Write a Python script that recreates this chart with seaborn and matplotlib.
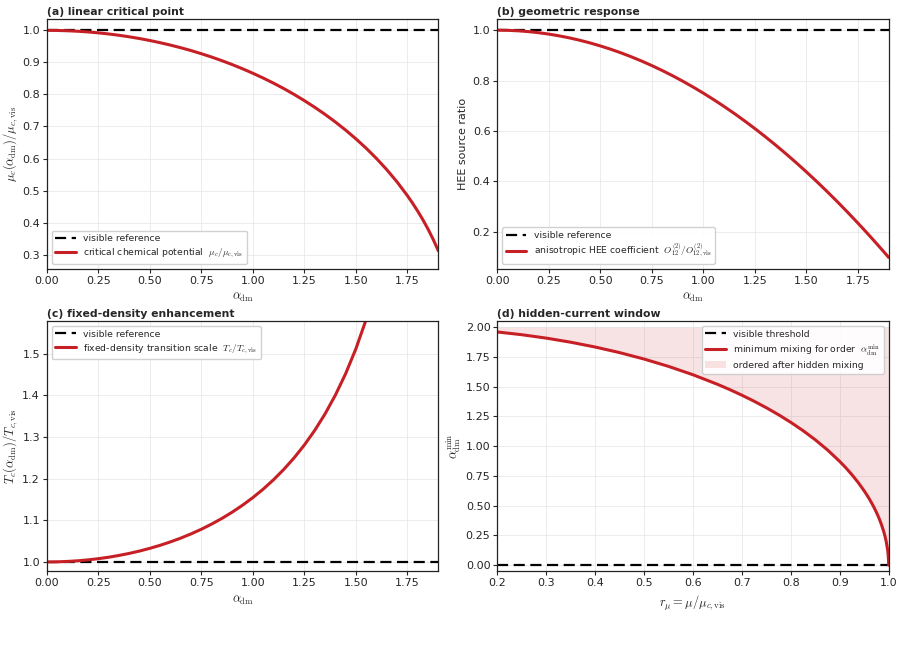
import numpy as np
import pandas as pd
import matplotlib
matplotlib.use("Agg")
import matplotlib.pyplot as plt
import seaborn as sns
from matplotlib.lines import Line2D
from matplotlib.patches import Patch

# ---------------- data ----------------
alpha_dm = [0.00, 0.05, 0.10, 0.15, 0.20, 0.25, 0.30, 0.35, 0.40, 0.45,
            0.50, 0.55, 0.60, 0.65, 0.70, 0.75, 0.80, 0.85, 0.90, 0.95,
            1.00, 1.05, 1.10, 1.15, 1.20, 1.25, 1.30, 1.35, 1.40, 1.45,
            1.50, 1.55, 1.60, 1.65, 1.70, 1.75, 1.775, 1.80, 1.825, 1.85,
            1.875, 1.90]

mu_ratio = [1.0000, 0.9997, 0.9987, 0.9972, 0.9950, 0.9922, 0.9887, 0.9846, 0.9798, 0.9744,
            0.9682, 0.9614, 0.9539, 0.9457, 0.9368, 0.9270, 0.9165, 0.9052, 0.8930, 0.8800,
            0.8660, 0.8511, 0.8352, 0.8182, 0.8000, 0.7806, 0.7599, 0.7378, 0.7141, 0.6887,
            0.6614, 0.6320, 0.6000, 0.5651, 0.5268, 0.4841, 0.4608, 0.4359, 0.4091, 0.3800,
            0.3480, 0.3122]

hee_ratio = [1.0000, 0.9994, 0.9975, 0.9944, 0.9900, 0.9844, 0.9775, 0.9694, 0.9600, 0.9494,
             0.9375, 0.9244, 0.9100, 0.8944, 0.8775, 0.8594, 0.8400, 0.8194, 0.7975, 0.7744,
             0.7500, 0.7244, 0.6975, 0.6694, 0.6400, 0.6094, 0.5775, 0.5444, 0.5100, 0.4744,
             0.4375, 0.3994, 0.3600, 0.3194, 0.2775, 0.2344, 0.2123, 0.1900, 0.1673, 0.1444,
             0.1211, 0.0975]

tc_ratio = [1.0000, 1.0003, 1.0013, 1.0028, 1.0050, 1.0079, 1.0114, 1.0157, 1.0206, 1.0263,
            1.0328, 1.0401, 1.0483, 1.0574, 1.0675, 1.0787, 1.0911, 1.1047, 1.1198, 1.1364,
            1.1547, 1.1749, 1.1974, 1.2223, 1.2500, 1.2810, 1.3159, 1.3553, 1.4003, 1.4519,
            1.5119, 1.5824, 1.6667, 1.7695, 1.8983, 2.0656, 2.1701, 2.2942, 2.4445, 2.6318,
            2.8737, 3.2026]

r_mu = [0.20, 0.25, 0.30, 0.35, 0.40, 0.45, 0.50, 0.55, 0.60, 0.65,
        0.675, 0.70, 0.725, 0.75, 0.775, 0.80, 0.825, 0.85, 0.875, 0.90,
        0.9125, 0.925, 0.9375, 0.95, 0.955, 0.96, 0.965, 0.97, 0.975, 0.98,
        0.985, 0.99, 0.9925, 0.995, 0.998, 0.999, 0.9999, 1.00]
alpha_min = [1.9596, 1.9365, 1.9079, 1.8735, 1.8330, 1.7861, 1.7321, 1.6703, 1.6000, 1.5199,
             1.4756, 1.4283, 1.3775, 1.3229, 1.2639, 1.2000, 1.1303, 1.0536, 0.9682, 0.8718,
             0.8182, 0.7599, 0.6960, 0.6245, 0.5932, 0.5600, 0.5245, 0.4862, 0.4444, 0.3980,
             0.3451, 0.2821, 0.2445, 0.1998, 0.1264, 0.0894, 0.0283, 0.0000]

titles = ["(a) linear critical point", "(b) geometric response",
          "(c) fixed-density enhancement", "(d) hidden-current window"]

# ---------------- style ----------------
RED = "#c62026"
sns.set_style("ticks")
plt.rcParams["font.family"] = ["DejaVu Sans"]
plt.rcParams["mathtext.fontset"] = "cm"
plt.rcParams["axes.edgecolor"] = "#222222"
plt.rcParams["xtick.labelsize"] = 8
plt.rcParams["ytick.labelsize"] = 8

fig, axes = plt.subplots(2, 2, figsize=(9.04, 6.49), dpi=100)
fig.subplots_adjust(left=0.052, right=0.983, top=0.971, bottom=0.120,
                    wspace=0.151, hspace=0.21)

def style(ax, title):
    ax.grid(True, color="#e9e9e9", lw=0.6)
    ax.set_axisbelow(True)
    ax.set_title(title, loc="left", fontsize=7.8, fontweight="bold", pad=3)
    for s in ax.spines.values():
        s.set_linewidth(0.9)
    ax.tick_params(length=3, width=0.8, pad=2)

ref_kw = dict(color="black", lw=1.6, ls=(0, (5, 2.5)))
leg_kw = dict(fontsize=6.7, framealpha=0.9, edgecolor="#cccccc", fancybox=True,
              handlelength=2.2, borderpad=0.4, labelspacing=0.35)

df = pd.DataFrame({"alpha": alpha_dm, "mu": mu_ratio, "hee": hee_ratio, "tc": tc_ratio})
dfd = pd.DataFrame({"r": r_mu, "amin": alpha_min})

# (a)
ax = axes[0, 0]
ax.axhline(1.0, **ref_kw, label="visible reference")
sns.lineplot(data=df, x="alpha", y="mu", ax=ax, color=RED, lw=2.2,
             label=r"critical chemical potential  $\mu_c/\mu_{c,\rm vis}$")
ax.set_xlim(0, 1.9)
ax.set_ylim(0.256, 1.036)
ax.set_xlabel(r"$\alpha_{\rm dm}$", fontsize=9)
ax.set_ylabel(r"$\mu_c(\alpha_{\rm dm})/\mu_{c,\rm vis}$", fontsize=9, labelpad=2)
ax.legend(loc="lower left", **leg_kw)
style(ax, titles[0])

# (b)
ax = axes[0, 1]
ax.axhline(1.0, **ref_kw, label="visible reference")
sns.lineplot(data=df, x="alpha", y="hee", ax=ax, color=RED, lw=2.2,
             label=r"anisotropic HEE coefficient  $O_{12}^{(2)}/O_{12,\rm vis}^{(2)}$")
ax.set_xlim(0, 1.9)
ax.set_xlabel(r"$\alpha_{\rm dm}$", fontsize=9)
ax.set_ylabel("HEE source ratio", fontsize=8, labelpad=3)
ax.legend(loc="lower left", **leg_kw)
style(ax, titles[1])

# (c)
ax = axes[1, 0]
ax.axhline(1.0, **ref_kw, label="visible reference")
sns.lineplot(data=df, x="alpha", y="tc", ax=ax, color=RED, lw=2.2,
             label=r"fixed-density transition scale  $T_c/T_{c,\rm vis}$")
ax.set_xlim(0, 1.9)
ax.set_ylim(0.978, 1.578)
ax.set_xlabel(r"$\alpha_{\rm dm}$", fontsize=9)
ax.set_ylabel(r"$T_c(\alpha_{\rm dm})/T_{c,\rm vis}$", fontsize=9, labelpad=2)
ax.legend(loc="upper left", **leg_kw)
style(ax, titles[2])

# (d)
ax = axes[1, 1]
ax.axhline(0.0, **ref_kw)
ax.fill_between(dfd["r"], dfd["amin"], 2.0, color=RED, alpha=0.12, lw=0)
sns.lineplot(data=dfd, x="r", y="amin", ax=ax, color=RED, lw=2.2)
ax.set_xlim(0.2, 1.0)
ax.set_ylim(-0.05, 2.05)
ax.set_xlabel(r"$r_\mu=\mu/\mu_{c,\rm vis}$", fontsize=9)
ax.set_ylabel(r"$\alpha_{\rm dm}^{\rm min}$", fontsize=9, labelpad=2)
handles = [Line2D([], [], **ref_kw),
           Line2D([], [], color=RED, lw=2.2),
           Patch(facecolor=RED, alpha=0.12, lw=0)]
labels = ["visible threshold", r"minimum mixing for order  $\alpha_{\rm dm}^{\rm min}$",
          "ordered after hidden mixing"]
ax.legend(handles, labels, loc="upper right", **leg_kw)
style(ax, titles[3])

fig.savefig("out.png", dpi=100)
